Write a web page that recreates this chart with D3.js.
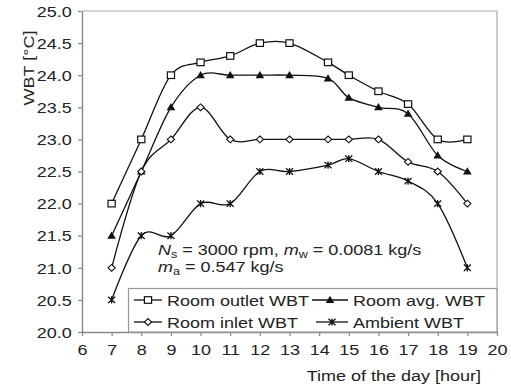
<!DOCTYPE html>
<html>
<head>
<meta charset="utf-8">
<script src="https://cdn.jsdelivr.net/npm/d3@7"></script>
<style>
  body { margin: 0; background: #fff; }
  svg { font-family: "Liberation Sans", Arial, sans-serif; }
</style>
</head>
<body>
<div id="svg-container"></div>
<script>
// data
const hours = [7, 8, 9, 10, 11, 12, 13, 14.3, 15, 16, 17, 18, 19];
const outletWBT = [22.0, 23.0, 24.0, 24.2, 24.3, 24.5, 24.5, 24.2, 24.0, 23.75, 23.55, 23.0, 23.0];
const avgWBT = [21.5, 22.5, 23.5, 24.0, 24.0, 24.0, 24.0, 23.95, 23.65, 23.5, 23.4, 22.75, 22.5];
const inletWBT = [21.0, 22.5, 23.0, 23.5, 23.0, 23.0, 23.0, 23.0, 23.0, 23.0, 22.65, 22.5, 22.0];
const ambientWBT = [20.5, 21.5, 21.5, 22.0, 22.0, 22.5, 22.5, 22.6, 22.7, 22.5, 22.35, 22.0, 21.0];
const xTicks = d3.range(6, 21, 1);
const yTicks = d3.range(20, 25.01, 0.5);
const seriesNames = ["Room outlet WBT", "Room avg. WBT", "Room inlet WBT", "Ambient WBT"];

const width = 511, height = 387;
const margin = { top: 11, right: 14, bottom: 55, left: 82 };
const SX = 1.2; // text is a bit wide in the original

const svg = d3.select("#svg-container").append("svg")
  .attr("width", width).attr("height", height);

const x = d3.scaleLinear().domain([6, 20]).range([margin.left, width - margin.right]);
const y = d3.scaleLinear().domain([20, 25]).range([height - margin.bottom, margin.top]);

// frame (top / right)
svg.append("path")
  .attr("d", `M${x(6)},${y(25)}H${x(20)}V${y(20)}`)
  .attr("fill", "none").attr("stroke", "#aaa").attr("stroke-width", 1.2);

// axes
const gx = svg.append("g")
  .attr("transform", `translate(0,${y(20)})`)
  .call(d3.axisBottom(x).tickValues(xTicks).tickSize(4).tickSizeOuter(0).tickFormat(d3.format("d")));
const gy = svg.append("g")
  .attr("transform", `translate(${x(6)},0)`)
  .call(d3.axisLeft(y).tickValues(yTicks).tickSize(4).tickSizeOuter(0).tickFormat(d3.format(".1f")));

[gx, gy].forEach(g => {
  g.select(".domain").attr("stroke", "#888").attr("stroke-width", 1.4);
  g.selectAll(".tick line").attr("stroke", "#888").attr("stroke-width", 1.2);
  g.selectAll("text").attr("font-size", 15).attr("fill", "#222")
    .attr("font-family", "Liberation Sans, Arial, sans-serif");
});
gx.selectAll("text").attr("y", 12).attr("dy", "0.71em").attr("transform", `scale(${SX},1)`);
gy.selectAll("text").attr("x", -8.6).attr("dy", "0.35em").attr("transform", `scale(${SX},1)`);

// axis titles
svg.append("text")
  .attr("transform", `translate(481,381) scale(${SX},1)`)
  .attr("text-anchor", "end").attr("font-size", 15).attr("fill", "#222")
  .text("Time of the day [hour]");
svg.append("text")
  .attr("transform", `translate(29,68) rotate(-90) scale(${SX},1)`)
  .attr("text-anchor", "middle").attr("dy", "0.35em").attr("font-size", 15).attr("fill", "#222")
  .text("WBT [°C]");

// markers
const marker = {
  square: g => g.append("rect").attr("x", -3.6).attr("y", -3.3).attr("width", 7.2).attr("height", 6.6)
    .attr("fill", "#fff").attr("stroke", "#111").attr("stroke-width", 1.2),
  triangle: g => g.append("path").attr("d", "M0,-4.2L4.3,3L-4.3,3Z").attr("fill", "#111"),
  diamond: g => g.append("path").attr("d", "M0,-3.4L3.6,0L0,3.4L-3.6,0Z")
    .attr("fill", "#fff").attr("stroke", "#111").attr("stroke-width", 1.1),
  star: g => g.append("path").attr("d", "M-3.5,-3.2L3.5,3.2M-3.5,3.2L3.5,-3.2M0,-3.6L0,3.6")
    .attr("stroke", "#111").attr("stroke-width", 1.3)
};

const series = [
  { name: seriesNames[0], values: outletWBT, mark: "square" },
  { name: seriesNames[1], values: avgWBT, mark: "triangle" },
  { name: seriesNames[2], values: inletWBT, mark: "diamond" },
  { name: seriesNames[3], values: ambientWBT, mark: "star" }
];

const line = d3.line()
  .x(d => x(d[0])).y(d => y(d[1]))
  .curve(d3.curveCatmullRom.alpha(0));

series.forEach(s => {
  const pts = hours.map((h, i) => [h, s.values[i]]);
  svg.append("path").datum(pts)
    .attr("d", line).attr("fill", "none")
    .attr("stroke", "#111").attr("stroke-width", 1.3);
  pts.forEach(p => {
    const g = svg.append("g").attr("transform", `translate(${x(p[0])},${y(p[1])})`);
    marker[s.mark](g);
  });
});

// annotation
const note = svg.append("g").attr("font-size", 15).attr("fill", "#222");
const t1 = note.append("text").attr("transform", `translate(158,255) scale(${SX},1)`);
t1.append("tspan").attr("font-style", "italic").text("N");
t1.append("tspan").attr("font-size", 10.5).attr("dy", 3).text("s");
t1.append("tspan").attr("dy", -3).text(" = 3000 rpm, ");
t1.append("tspan").attr("font-style", "italic").text("m");
t1.append("tspan").attr("font-size", 10.5).attr("dy", 3).text("w");
t1.append("tspan").attr("dy", -3).text(" = 0.0081 kg/s");
const t2 = note.append("text").attr("transform", `translate(158,272) scale(${SX},1)`);
t2.append("tspan").attr("font-style", "italic").text("m");
t2.append("tspan").attr("font-size", 10.5).attr("dy", 3).text("a");
t2.append("tspan").attr("dy", -3).text(" = 0.547 kg/s");

// legend
const legend = svg.append("g");
legend.append("rect")
  .attr("x", 128.5).attr("y", 288.5).attr("width", x(20) - 128.5).attr("height", y(20) - 288.5)
  .attr("fill", "#fff").attr("stroke", "#999").attr("stroke-width", 1.2);

const legPos = [
  { x0: 134, x1: 162, y: 300 },
  { x0: 312, x1: 348, y: 300 },
  { x0: 134, x1: 162, y: 322 },
  { x0: 316, x1: 348, y: 322 }
];
series.forEach((s, i) => {
  const p = legPos[i];
  legend.append("line").attr("x1", p.x0).attr("x2", p.x1).attr("y1", p.y).attr("y2", p.y)
    .attr("stroke", "#111").attr("stroke-width", 1.3);
  marker[s.mark](legend.append("g").attr("transform", `translate(${(p.x0 + p.x1) / 2},${p.y})`));
  legend.append("text")
    .attr("transform", `translate(${p.x1 + 5},${p.y + 6}) scale(${SX},1)`)
    .attr("font-size", 15).attr("fill", "#222")
    .text(s.name);
});
</script>
</body>
</html>
